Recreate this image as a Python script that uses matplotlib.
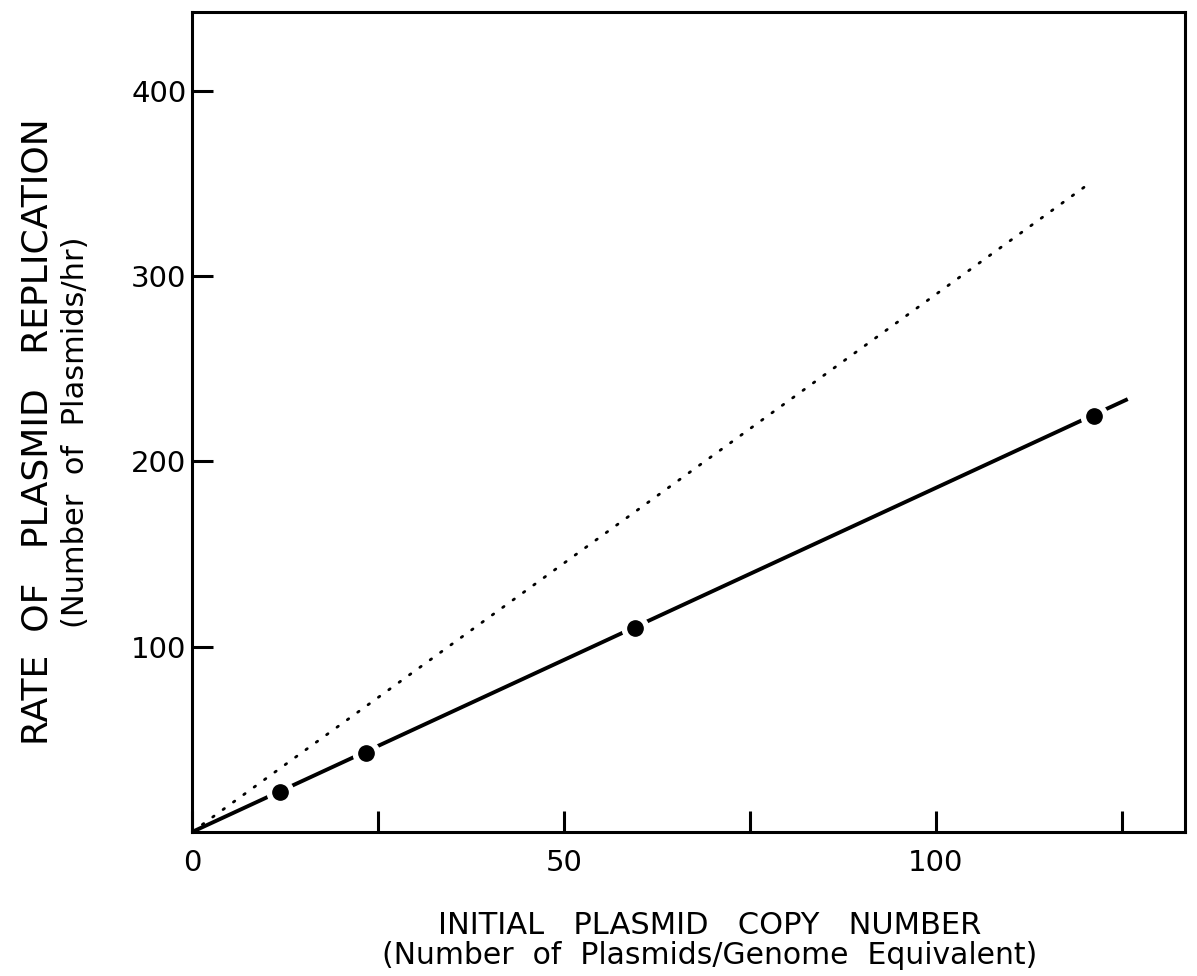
import matplotlib
matplotlib.use("Agg")
import matplotlib.pyplot as plt
import numpy as np

# Data
copy_number = [11.8, 23.4, 59.5, 121.2]          # x of measured points
rate = [21.5, 42.5, 110.0, 224.5]                 # y of measured points
solid_line_x = [0.0, 125.8]
solid_line_y = [0.0, 233.6]
dotted_line_x = [0.0, 120.3]
dotted_line_y = [0.0, 349.0]

x_major = [0, 50, 100]
x_major_labels = ["0", "50", "100"]
x_minor = [25, 75, 125]
y_ticks = [100, 200, 300, 400]
y_tick_labels = ["100", "200", "300", "400"]

plt.rcParams['font.family'] = ['DejaVu Sans']

fig = plt.figure(figsize=(11.97, 9.76), dpi=100)
ax = fig.add_axes([192/1197, (976-832)/976, (1185-192)/1197, (832-12)/976])

ax.plot(dotted_line_x, dotted_line_y, color='black', lw=2.0,
        linestyle=(0, (0.6, 4.0)), dash_capstyle='round', zorder=2)
ax.plot(solid_line_x, solid_line_y, color='black', lw=2.8, zorder=2,
        solid_capstyle='butt')
ax.plot(copy_number, rate, linestyle='none', marker='o', ms=19,
        mfc='white', mec='white', zorder=3)
ax.plot(copy_number, rate, linestyle='none', marker='o', ms=11,
        mfc='black', mec='black', zorder=4)

ax.set_xlim(0, 133.5)
ax.set_ylim(0, 442.5)

ax.set_xticks(x_major)
ax.set_xticklabels(x_major_labels)
ax.set_xticks(x_minor, minor=True)
ax.set_yticks(y_ticks)
ax.set_yticklabels(y_tick_labels)

ax.tick_params(axis='both', which='both', direction='in', length=15, width=2.2,
               labelsize=21)
ax.tick_params(axis='x', which='major', pad=12)
ax.tick_params(axis='y', which='major', pad=4)
for s in ax.spines.values():
    s.set_linewidth(2.2)

cx = 710/1197
fig.text(cx, 1 - 925/976, "INITIAL   PLASMID   COPY   NUMBER",
         ha='center', va='center', fontsize=22)
fig.text(cx, 1 - 956/976, "(Number  of  Plasmids/Genome  Equivalent)",
         ha='center', va='center', fontsize=21.5)
fig.text(38/1197, 1 - 432/976, "RATE  OF   PLASMID   REPLICATION",
         ha='center', va='center', rotation=90, fontsize=26)
fig.text(76/1197, 1 - 432/976, "(Number  of  Plasmids/hr)",
         ha='center', va='center', rotation=90, fontsize=22)

fig.savefig("out.png", dpi=100)
